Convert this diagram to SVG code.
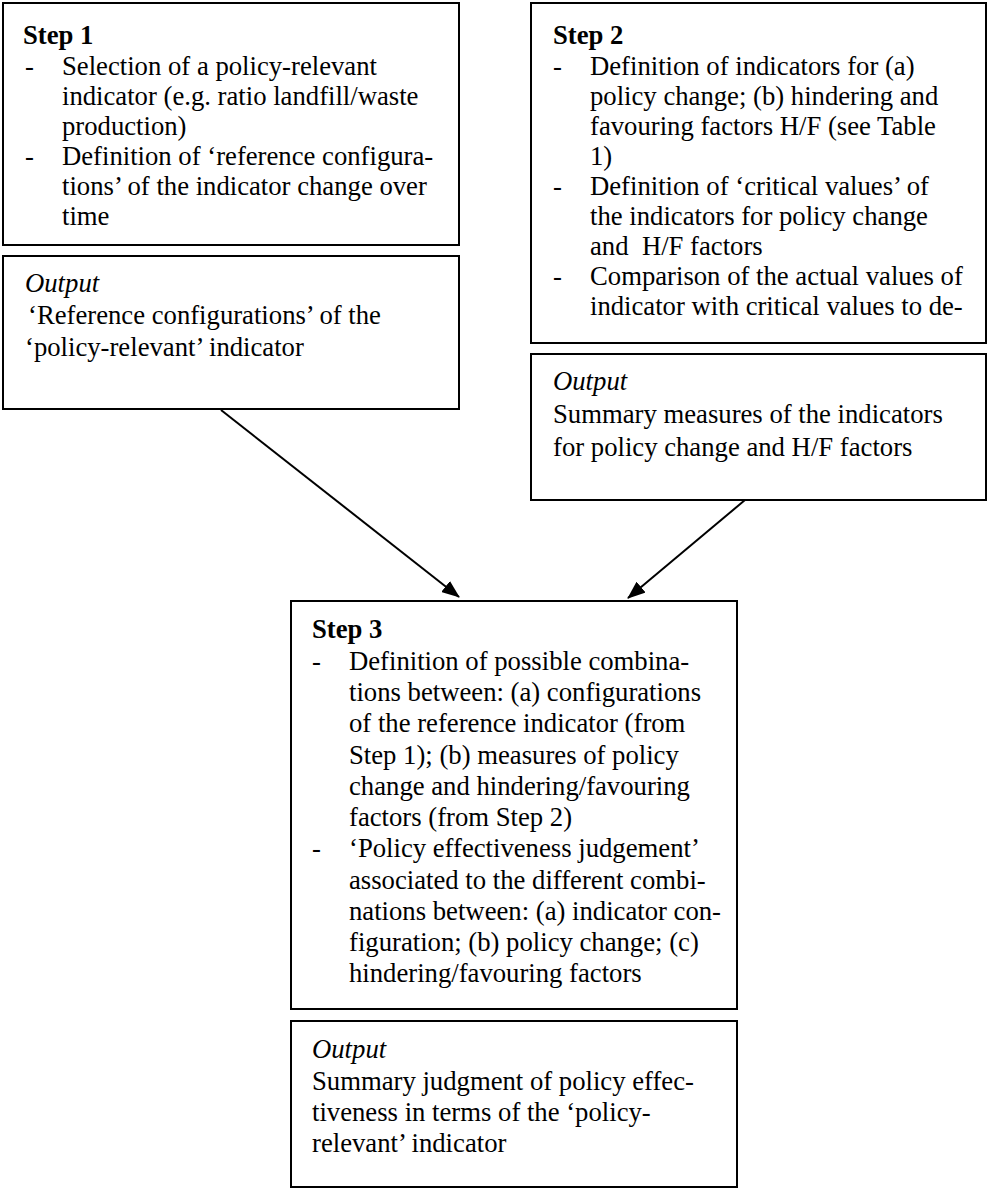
<svg xmlns="http://www.w3.org/2000/svg" width="988" height="1189" viewBox="0 0 988 1189">
<style>
  .box { fill: #fff; stroke: #000; stroke-width: 2; }
  text { font-family: "Liberation Serif", "Times New Roman", serif; font-size: 26.7px; fill: #000; }
  .title { font-weight: bold; }
  .out { font-style: italic; }
  .conn { stroke: #000; stroke-width: 2; fill: none; marker-end: url(#arrow); }
</style>
<defs>
  <marker id="arrow" viewBox="0 0 18 14" refX="17" refY="7" markerWidth="18" markerHeight="14" markerUnits="userSpaceOnUse" orient="auto">
    <path d="M0,0 L18,7 L0,14 z" fill="#000"/>
  </marker>
</defs>
<rect width="988" height="1189" fill="#fff"/>

<g id="step1">
  <rect class="box" x="3" y="3" width="456" height="242"/>
  <text class="title" x="23" y="44">Step 1</text>
  <text x="25" y="75">-</text>
  <text x="62" y="75">Selection of a policy-relevant</text>
  <text x="62" y="105">indicator (e.g. ratio landfill/waste</text>
  <text x="62" y="135">production)</text>
  <text x="25" y="165">-</text>
  <text x="62" y="165">Definition of ‘reference configura-</text>
  <text x="62" y="195">tions’ of the indicator change over</text>
  <text x="62" y="225">time</text>
</g>

<g id="output1">
  <rect class="box" x="3" y="256" width="456" height="153"/>
  <text class="out" x="25" y="292">Output</text>
  <text x="28" y="324">‘Reference configurations’ of the</text>
  <text x="25" y="356">‘policy-relevant’ indicator</text>
</g>

<g id="step2">
  <rect class="box" x="531" y="3" width="455" height="340"/>
  <text class="title" x="553" y="44">Step 2</text>
  <text x="553" y="75">-</text>
  <text x="590" y="75">Definition of indicators for (a)</text>
  <text x="590" y="105">policy change; (b) hindering and</text>
  <text x="590" y="135">favouring factors H/F (see Table</text>
  <text x="590" y="165">1)</text>
  <text x="553" y="195">-</text>
  <text x="590" y="195">Definition of ‘critical values’ of</text>
  <text x="590" y="225">the indicators for policy change</text>
  <text x="590" y="255" xml:space="preserve">and  H/F factors</text>
  <text x="553" y="285">-</text>
  <text x="590" y="285">Comparison of the actual values of</text>
  <text x="590" y="315">indicator with critical values to de-</text>
</g>

<g id="output2">
  <rect class="box" x="531" y="354" width="455" height="146"/>
  <text class="out" x="553" y="390">Output</text>
  <text x="553" y="423">Summary measures of the indicators</text>
  <text x="553" y="456">for policy change and H/F factors</text>
</g>

<g id="step3">
  <rect class="box" x="291" y="601" width="446" height="408"/>
  <text class="title" x="312" y="638">Step 3</text>
  <text x="312" y="670">-</text>
  <text x="349" y="670">Definition of possible combina-</text>
  <text x="349" y="701">tions between: (a) configurations</text>
  <text x="349" y="732">of the reference indicator (from</text>
  <text x="349" y="764">Step 1); (b) measures of policy</text>
  <text x="349" y="795">change and hindering/favouring</text>
  <text x="349" y="826">factors (from Step 2)</text>
  <text x="312" y="857">-</text>
  <text x="349" y="857">‘Policy effectiveness judgement’</text>
  <text x="349" y="889">associated to the different combi-</text>
  <text x="349" y="920">nations between: (a) indicator con-</text>
  <text x="349" y="951">figuration; (b) policy change; (c)</text>
  <text x="349" y="982">hindering/favouring factors</text>
</g>

<g id="output3">
  <rect class="box" x="291" y="1021" width="446" height="166"/>
  <text class="out" x="312" y="1058">Output</text>
  <text x="312" y="1090">Summary judgment of policy effec-</text>
  <text x="312" y="1121">tiveness in terms of the ‘policy-</text>
  <text x="312" y="1152">relevant’ indicator</text>
</g>

<g id="connectors">
  <line class="conn" x1="221" y1="410" x2="459" y2="597"/>
  <line class="conn" x1="745" y1="500" x2="628" y2="598"/>
</g>
</svg>
